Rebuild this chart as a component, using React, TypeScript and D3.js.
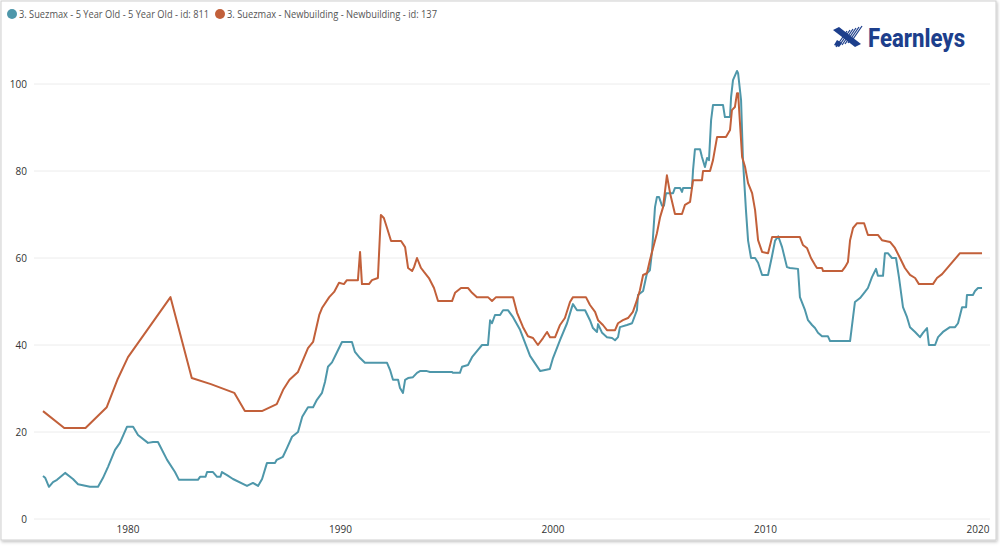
import * as d3 from "d3";

// [year, value]
const fiveYearOld: [number, number][] = [
  [1976.0, 9.9], [1976.1, 9.5], [1976.28, 7.4], [1976.47, 8.5], [1976.66, 9.0], [1977.04, 10.6],
  [1977.41, 9.2], [1977.65, 8.0], [1978.21, 7.4], [1978.59, 7.4], [1978.82, 9.4], [1979.06, 12],
  [1979.39, 15.9], [1979.62, 17.5], [1979.95, 21.2], [1980.24, 21.2], [1980.47, 19.3], [1980.94, 17.5],
  [1981.18, 17.7], [1981.41, 17.7], [1981.84, 13.6], [1982.21, 10.8], [1982.4, 9.0], [1983.29, 9.0],
  [1983.39, 9.7], [1983.65, 9.7], [1983.72, 10.8], [1984.0, 10.8], [1984.19, 9.7], [1984.35, 9.7],
  [1984.42, 10.8], [1984.66, 10.1], [1984.94, 9.2], [1985.6, 7.6], [1985.88, 8.3], [1986.12, 7.6],
  [1986.31, 9.2], [1986.54, 12.9], [1986.92, 12.9], [1987.0, 13.6], [1987.29, 14.3], [1987.48, 16.3],
  [1987.72, 18.9], [1988.0, 20], [1988.2, 23.5], [1988.47, 25.7], [1988.71, 25.7], [1988.89, 27.4],
  [1989.13, 29], [1989.27, 31.5], [1989.41, 35], [1989.6, 36], [1989.84, 38.4], [1990.07, 40.7],
  [1990.54, 40.7], [1990.68, 38.4], [1990.92, 37], [1991.15, 35.9], [1992.19, 35.9], [1992.33, 34.3],
  [1992.47, 32], [1992.71, 32], [1992.8, 30.1], [1992.94, 29], [1993.04, 32], [1993.18, 32.4],
  [1993.41, 32.6], [1993.6, 33.6], [1993.74, 34], [1994.07, 34], [1994.21, 33.8], [1995.25, 33.8],
  [1995.29, 33.6], [1995.62, 33.6], [1995.72, 35], [1996.0, 35.4], [1996.19, 37.2], [1996.47, 38.9],
  [1996.66, 40], [1996.94, 40], [1997.04, 45.7], [1997.13, 45], [1997.27, 46.9], [1997.51, 46.9],
  [1997.65, 48], [1997.88, 48], [1998.12, 46.4], [1998.45, 43.5], [1998.92, 37.5], [1999.4, 34],
  [1999.85, 34.5], [2000.0, 37], [2000.33, 41.1], [2000.66, 45], [2000.89, 48.7], [2000.94, 49.4],
  [2001.13, 48], [2001.51, 48], [2001.74, 45.7], [2001.88, 43.9], [2002.07, 43], [2002.12, 44.8],
  [2002.31, 42.8], [2002.54, 41.8], [2002.78, 41.6], [2002.92, 41.1], [2003.06, 41.8], [2003.15, 44.1],
  [2003.48, 44.6], [2003.72, 45], [2003.95, 48], [2004.0, 51.5], [2004.24, 52.4], [2004.42, 56.5],
  [2004.56, 57.2], [2004.66, 61.5], [2004.8, 71.7], [2004.89, 74], [2004.99, 74], [2005.13, 72],
  [2005.22, 72], [2005.32, 74.9], [2005.65, 74.9], [2005.74, 76.1], [2005.98, 76.1], [2006.07, 75.2],
  [2006.12, 76.1], [2006.54, 76.1], [2006.59, 80.2], [2006.68, 85], [2006.92, 85], [2007.01, 83.2],
  [2007.15, 80.9], [2007.25, 83], [2007.34, 82.5], [2007.44, 91.7], [2007.53, 95.2], [2008.0, 95.2],
  [2008.09, 92.4], [2008.33, 92.4], [2008.38, 97], [2008.47, 100.9], [2008.66, 103], [2008.71, 102.5],
  [2008.85, 96.3], [2008.94, 82.5], [2009.08, 71], [2009.18, 64], [2009.32, 60], [2009.51, 60],
  [2009.65, 58.9], [2009.84, 56.1], [2010.12, 56.1], [2010.31, 60.5], [2010.45, 64], [2010.6, 65],
  [2010.78, 62.5], [2011.01, 57.9], [2011.15, 57.7], [2011.53, 57.5], [2011.62, 51], [2011.86, 48],
  [2012.0, 45.7], [2012.19, 44.6], [2012.33, 43.9], [2012.47, 42.8], [2012.66, 42], [2012.94, 42],
  [2013.04, 40.9], [2013.98, 40.9], [2014.12, 46.4], [2014.21, 49.9], [2014.45, 50.8], [2014.68, 52.2],
  [2014.82, 53.1], [2015.01, 55.6], [2015.2, 57.5], [2015.29, 55.9], [2015.53, 55.9], [2015.62, 61.1],
  [2015.76, 61.1], [2015.95, 60], [2016.14, 60], [2016.28, 55.6], [2016.47, 48.7], [2016.66, 46.4],
  [2016.8, 44.1], [2017.04, 43], [2017.27, 41.8], [2017.41, 42.8], [2017.6, 43.9], [2017.69, 40],
  [2017.98, 40], [2018.12, 41.8], [2018.35, 43], [2018.68, 44.1], [2018.92, 44.1], [2019.06, 45],
  [2019.25, 48.7], [2019.44, 48.7], [2019.48, 51.5], [2019.76, 51.5], [2019.86, 52.4], [2020.0, 53.1],
  [2020.19, 53.1],
];

const newbuilding: [number, number][] = [
  [1976.0, 24.8], [1977.0, 20.9], [1978.0, 20.9], [1979.0, 25.7], [1979.5, 32], [1980.0, 37.2],
  [1981.0, 44.1], [1982.0, 51], [1983.0, 32.4], [1983.9, 31], [1985.0, 29], [1985.5, 24.8],
  [1986.3, 24.8], [1987.0, 26.4], [1987.3, 29.7], [1987.6, 32], [1988.0, 33.8], [1988.47, 39.3],
  [1988.71, 40.7], [1989.0, 46.9], [1989.13, 48.5], [1989.47, 51], [1989.7, 52.2], [1989.93, 54.3],
  [1990.16, 54], [1990.3, 54.9], [1990.82, 54.9], [1990.92, 61.4], [1991.01, 54], [1991.34, 54],
  [1991.48, 54.9], [1991.76, 55.4], [1991.9, 69.9], [1992.04, 69.2], [1992.19, 66.9], [1992.38, 63.9],
  [1992.85, 63.9], [1993.04, 62.5], [1993.18, 57.7], [1993.37, 57], [1993.46, 57.9], [1993.6, 60],
  [1993.79, 57.7], [1993.93, 56.8], [1994.16, 55.4], [1994.4, 53.1], [1994.59, 50.1], [1995.25, 50.1],
  [1995.39, 52], [1995.67, 53.1], [1996.0, 53.1], [1996.19, 52], [1996.42, 51], [1996.94, 51],
  [1997.13, 50.1], [1997.32, 51], [1998.12, 51], [1998.31, 47.4], [1998.59, 44.1], [1998.82, 42],
  [1999.06, 41.6], [1999.29, 40], [1999.53, 41.6], [1999.72, 43], [1999.86, 41.8], [2000.1, 41.8],
  [2000.33, 44.6], [2000.56, 46.2], [2000.8, 49.9], [2000.94, 51], [2001.55, 51], [2001.74, 49.2],
  [2001.98, 47.6], [2002.12, 45.7], [2002.35, 44.6], [2002.54, 43.4], [2002.92, 43.4], [2003.06, 45],
  [2003.29, 45.7], [2003.53, 46.2], [2003.76, 47.6], [2003.95, 50.3], [2004.09, 52.6], [2004.24, 56.1],
  [2004.42, 56.5], [2004.56, 59.5], [2004.71, 62.3], [2004.89, 65.7], [2005.04, 69.4], [2005.18, 71.7],
  [2005.36, 79], [2005.51, 74.9], [2005.74, 70.1], [2006.07, 70.1], [2006.21, 72.2], [2006.45, 72.9],
  [2006.59, 77.9], [2007.01, 77.9], [2007.06, 80], [2007.39, 80], [2007.53, 82.5], [2007.72, 87.8],
  [2008.14, 87.8], [2008.33, 89.4], [2008.42, 94], [2008.56, 94.7], [2008.66, 97.9], [2008.71, 97.9],
  [2008.9, 83.2], [2009.04, 80.9], [2009.18, 77.2], [2009.37, 74.9], [2009.51, 71], [2009.65, 64.1],
  [2009.84, 61.4], [2010.12, 61.1], [2010.31, 64.8], [2011.62, 64.8], [2011.76, 63], [2011.95, 62.3],
  [2012.14, 60], [2012.33, 58.4], [2012.42, 57.7], [2012.66, 57.7], [2012.71, 57], [2013.6, 57],
  [2013.74, 57.9], [2013.88, 59.1], [2013.98, 64.1], [2014.12, 66.9], [2014.31, 68], [2014.64, 68],
  [2014.82, 65.3], [2015.29, 65.3], [2015.48, 64.1], [2015.86, 63.7], [2016.09, 62.3], [2016.33, 60],
  [2016.56, 57.7], [2016.8, 56.1], [2017.04, 55.4], [2017.22, 54], [2017.88, 54], [2018.07, 55.4],
  [2018.31, 56.3], [2019.15, 61.1], [2020.19, 61.1],
];

const seriesNames = [
  "3. Suezmax - 5 Year Old - 5 Year Old - id: 811",
  "3. Suezmax - Newbuilding - Newbuilding - id: 137",
];
const seriesColors = ["#4e97aa", "#c2603a"];
const yTicks = [0, 20, 40, 60, 80, 100];
const xTicks = [1980, 1990, 2000, 2010, 2020];

const W = 1000;
const H = 548;
const font = "'Segoe UI', 'Open Sans', 'Noto Sans', sans-serif";

// legend item positions / widths (px)
const legendX = [12, 220];
const legendW = [190, 210];

export default function App() {
  const x = d3.scaleLinear().domain([1980, 2020]).range([128, 978]);
  const y = d3.scaleLinear().domain([0, 100]).range([519, 84]);

  const line = d3
    .line<[number, number]>()
    .x((d) => x(d[0]))
    .y((d) => y(d[1]));

  const series = [fiveYearOld, newbuilding];

  return (
    <svg
      width={W}
      height={H}
      viewBox={`0 0 ${W} ${H}`}
      style={{ position: "absolute", left: 0, top: 0, background: "#fff" }}
    >
      <defs>
        <filter id="shadow" x="-5%" y="-5%" width="110%" height="110%">
          <feDropShadow dx="1" dy="1.5" stdDeviation="1.5" floodColor="#000" floodOpacity="0.25" />
        </filter>
      </defs>
      <rect x={1} y={1} width={995} height={539} fill="#fff" stroke="#cfcfcf" strokeWidth={1} filter="url(#shadow)" />

      {/* legend */}
      {seriesNames.map((name, i) => (
        <g key={name}>
          <circle cx={legendX[i]} cy={14} r={5} fill={seriesColors[i]} />
          <text
            x={legendX[i] + 7}
            y={17.5}
            fontSize={10}
            fill="#555"
            fontFamily={font}
            textLength={legendW[i]}
            lengthAdjust="spacingAndGlyphs"
          >
            {name}
          </text>
        </g>
      ))}

      {/* logo */}
      <g transform="translate(833,27)">
        <polygon points="0,3 6,0 28,17 22,20" fill="#1d3f8c" />
        {d3.range(6).map((k) => (
          <line
            key={k}
            x1={3 + k * 3}
            y1={20 - k * 1}
            x2={14 + k * 3}
            y2={4 - k * 1}
            stroke="#1d3f8c"
            strokeWidth={1.3}
          />
        ))}
        <polygon points="1,18 6,20 9,16 4,13" fill="#1d3f8c" />
      </g>
      <text
        x={868}
        y={47}
        fontSize={26}
        fontWeight={800}
        fill="#1d3f8c"
        fontFamily="'Liberation Sans Narrow', 'Arial Narrow', 'Roboto', sans-serif"
        textLength={97}
        lengthAdjust="spacingAndGlyphs"
      >
        Fearnleys
      </text>

      {/* grid + y axis */}
      {yTicks.map((t) => (
        <g key={t}>
          <line x1={34} x2={990} y1={y(t)} y2={y(t)} stroke="#ececec" strokeWidth={1} />
          <text x={27} y={y(t) + 4} textAnchor="end" fontSize={10} fill="#333" fontFamily={font}>
            {t}
          </text>
        </g>
      ))}

      {/* x axis labels */}
      {xTicks.map((t) => (
        <text key={t} x={x(t)} y={533} textAnchor="middle" fontSize={10} fill="#333" fontFamily={font}>
          {t}
        </text>
      ))}

      {/* lines */}
      {series.map((s, i) => (
        <path
          key={i}
          d={line(s) ?? ""}
          fill="none"
          stroke={seriesColors[i]}
          strokeWidth={2}
          strokeLinejoin="round"
        />
      ))}
    </svg>
  );
}
